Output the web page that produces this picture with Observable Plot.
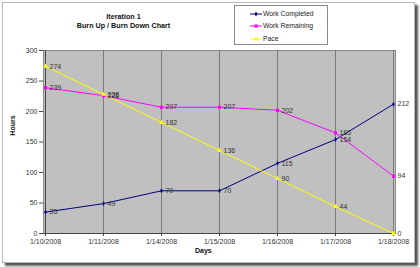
<!DOCTYPE html>
<html>
<head>
<meta charset="utf-8">
<script src="https://cdn.jsdelivr.net/npm/d3@7"></script>
<script src="https://cdn.jsdelivr.net/npm/@observablehq/plot@0.6"></script>
<style>
  html, body { margin: 0; padding: 0; background: #ffffff; }
  #wrap { position: relative; width: 420px; height: 267px; overflow: hidden; font-family: "Liberation Sans", Arial, sans-serif; }
  #box { position: absolute; left: 2px; top: 2px; width: 411px; height: 259px; background: #fff; border: 1px solid #b8b8b8; box-shadow: 3px 3px 2px #555; }
  #chart { position: absolute; left: 0; top: 0; }
  .t { position: absolute; color: #111; font-weight: bold; white-space: nowrap; }
  #legend { position: absolute; left: 234px; top: 5px; width: 92px; height: 38px; border: 1px solid #8a8a8a; background: #fff; }
  .li { position: absolute; left: 15px; height: 10px; font-size: 6.8px; color: #222; white-space: nowrap; }
  .li svg { position: absolute; left: 0; top: 0; }
  .li span { position: absolute; left: 13px; top: 1px; }
</style>
</head>
<body>
<div id="wrap">
  <div id="box"></div>
  <div id="chart"></div>
  <div class="t" style="left:0;width:247px;top:12px;text-align:center;font-size:7.2px;">Iteration 1</div>
  <div class="t" style="left:0;width:247px;top:21px;text-align:center;font-size:7.2px;">Burn Up / Burn Down Chart</div>
  <div class="t" style="left:195px;top:247px;font-size:7px;">Days</div>
  <div class="t" style="left:-3px;top:122px;font-size:7px;transform:rotate(-90deg);width:30px;text-align:center;">Hours</div>
  <div id="legend"></div>
</div>
<script>
const days = ["1/10/2008", "1/11/2008", "1/14/2008", "1/15/2008", "1/16/2008", "1/17/2008", "1/18/2008"];
const workCompleted = [35, 49, 70, 70, 115, 154, 212];
const workRemaining = [239, 226, 207, 207, 202, 165, 94];
const pace = [274, 228, 182, 136, 90, 44, 0];
const yTicks = [0, 50, 100, 150, 200, 250, 300];

const seriesNames = ["Work Completed", "Work Remaining", "Pace"];
const seriesColors = ["#000080", "#ff00ff", "#ffff00"];
const seriesSymbols = ["diamond", "square", "triangle"];
const seriesValues = [workCompleted, workRemaining, pace];

const rows = [];
seriesNames.forEach((s, i) => {
  days.forEach((d, j) => rows.push({series: s, day: d, value: seriesValues[i][j]}));
});

const marks = [
  Plot.frame({fill: "#c0c0c0", stroke: "#8c8c8c"}),
  Plot.ruleX(days, {stroke: "#7a7a7a", strokeWidth: 1}),
  Plot.ruleX([days[0]], {stroke: "#444"}),
  Plot.ruleY([0], {stroke: "#444"}),
  Plot.axisY({ticks: yTicks, tickSize: 4, tickPadding: 2, fontSize: 7, label: null, stroke: "#444", color: "#333"}),
  Plot.axisX({tickSize: 3, tickPadding: 3, fontSize: 7, label: null, stroke: "#444", color: "#333"})
];
seriesNames.forEach((s, i) => {
  const data = rows.filter(r => r.series === s);
  marks.push(Plot.line(data, {x: "day", y: "value", stroke: seriesColors[i], strokeWidth: 1}));
});
seriesNames.forEach((s, i) => {
  const data = rows.filter(r => r.series === s);
  marks.push(Plot.dot(data, {x: "day", y: "value", symbol: seriesSymbols[i], fill: seriesColors[i], stroke: "none", r: i === 0 ? 1.5 : 1.8}));
  marks.push(Plot.text(data, {x: "day", y: "value", text: d => String(d.value), dx: 4, textAnchor: "start", fontSize: 7, fill: "#333"}));
});

const chart = Plot.plot({
  width: 420,
  height: 267,
  marginLeft: 43,
  marginRight: 25,
  marginTop: 50,
  marginBottom: 34,
  style: {background: "transparent", fontFamily: "'Liberation Sans', Arial, sans-serif"},
  x: {type: "point", domain: days, padding: 0},
  y: {domain: [0, 300]},
  marks
});
document.getElementById("chart").appendChild(chart);

// legend
const legend = document.getElementById("legend");
const rowsY = [3, 15, 28];
seriesNames.forEach((s, i) => {
  const div = document.createElement("div");
  div.className = "li";
  div.style.top = rowsY[i] + "px";
  const sym = d3.symbol().type(i === 0 ? d3.symbolDiamond : i === 1 ? d3.symbolSquare : d3.symbolTriangle).size(i === 0 ? 7 : 10)();
  div.innerHTML = `<svg width="14" height="10"><line x1="0" x2="12" y1="5" y2="5" stroke="${seriesColors[i]}" stroke-width="1"/><path transform="translate(6,5)" d="${sym}" fill="${seriesColors[i]}"/></svg><span>${s}</span>`;
  legend.appendChild(div);
});
</script>
</body>
</html>
